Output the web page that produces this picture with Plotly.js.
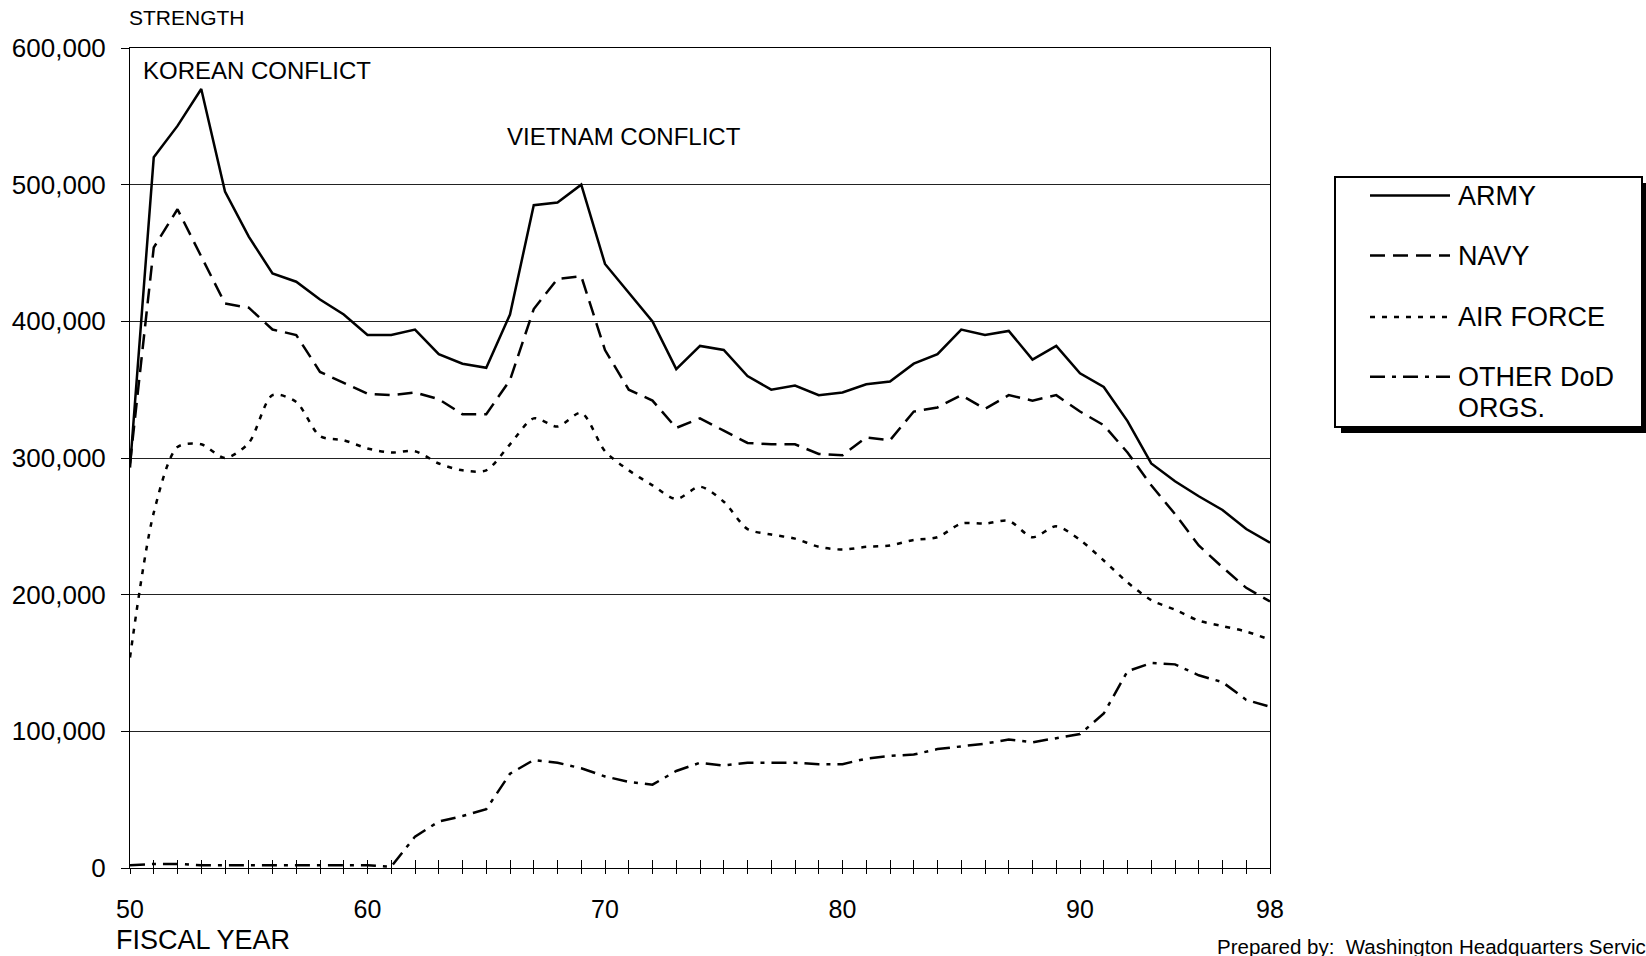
<!DOCTYPE html>
<html>
<head>
<meta charset="utf-8">
<script src="https://cdn.plot.ly/plotly-3.0.1.min.js"></script>
<style>
  html, body { margin: 0; padding: 0; background: #fff; }
  #chart { width: 1646px; height: 956px; }
</style>
</head>
<body>
<div id="chart"></div>
<script>
// ---- data ----
const years = [50,51,52,53,54,55,56,57,58,59,60,61,62,63,64,65,66,67,68,69,70,71,72,73,74,75,76,77,78,79,80,81,82,83,84,85,86,87,88,89,90,91,92,93,94,95,96,97,98];

const army = [293000,520000,543000,570000,495000,462000,435000,429000,416000,405000,390000,390000,394000,376000,369000,366000,405000,485000,487000,500000,442000,421000,400000,365000,382000,379000,360000,350000,353000,346000,348000,354000,356000,369000,376000,394000,390000,393000,372000,382000,362000,352000,327000,296000,283000,272000,262000,248000,238000];

const navy = [296000,454000,482000,447000,413000,410000,394000,390000,363000,355000,347000,346000,348000,343000,332000,332000,357000,409000,431000,433000,379000,350000,342000,322000,329000,320000,311000,310000,310000,303000,302000,315000,313000,334000,337000,346000,336000,346000,342000,346000,334000,324000,304000,280000,259000,236000,220000,205000,195000];

const airForce = [154000,260000,308000,310000,300000,311000,346000,341000,316000,313000,307000,304000,305000,296000,291000,291000,310000,329000,323000,333000,305000,291000,280000,270000,279000,268000,248000,244000,241000,235000,233000,235000,236000,240000,242000,252000,252000,254000,242000,250000,240000,225000,209000,196000,189000,181000,177000,173000,167000];

const otherDoD = [2000,3000,3000,2000,2000,2000,2000,2000,2000,2000,2000,1000,23000,34000,38000,43000,69000,79000,77000,73000,67000,63000,61000,71000,77000,75000,77000,77000,77000,76000,76000,80000,82000,83000,87000,89000,91000,94000,92000,95000,98000,113000,144000,150000,149000,141000,136000,123000,118000];

const seriesNames = ['ARMY', 'NAVY', 'AIR FORCE', 'OTHER DoD ORGS.'];
const legendLabelLines = [['ARMY'], ['NAVY'], ['AIR FORCE'], ['OTHER DoD', 'ORGS.']];
const labeledYears = [50, 60, 70, 80, 90, 98];
const yTickVals = [0, 100000, 200000, 300000, 400000, 500000, 600000];
const yTickText = ['0', '100,000', '200,000', '300,000', '400,000', '500,000', '600,000'];

// ---- styles ----
const FONT = '"Liberation Sans", Arial, Helvetica, sans-serif';
const seriesValues = [army, navy, airForce, otherDoD];
const dashes = ['solid', '15px,8px', '5px,7px', '15px,7px,4px,7px'];
const shapesLine = ['linear', 'linear', 'spline', 'linear'];

// plot area in pixels
const W = 1646, H = 956;
const L = 130, R = 1270, T = 48, B = 868;
const px = x => (x - L) / (R - L);
const py = y => (B - y) / (B - T);

const traces = seriesValues.map((vals, i) => ({
  x: years,
  y: vals,
  name: seriesNames[i],
  type: 'scatter',
  mode: 'lines',
  line: { color: '#000', width: 2.5, dash: dashes[i], shape: shapesLine[i], smoothing: 0.8 },
  showlegend: false,
  hoverinfo: 'x+y+name'
}));

// invisible trace on overlay axis so inside ticks draw
traces.push({
  x: [years[0]], y: [0], xaxis: 'x2', yaxis: 'y', type: 'scatter', mode: 'lines',
  line: { width: 0 }, showlegend: false, hoverinfo: 'skip'
});

const tickText = years.map(y => labeledYears.includes(y) ? String(y) : '');

const annotations = [
  { text: 'STRENGTH', x: px(127), y: py(17.5), xanchor: 'left', yanchor: 'middle', font: { size: 21 } },
  { text: 'KOREAN CONFLICT', x: px(141), y: py(70.5), xanchor: 'left', yanchor: 'middle', font: { size: 24 } },
  { text: 'VIETNAM CONFLICT', x: px(505), y: py(136.5), xanchor: 'left', yanchor: 'middle', font: { size: 24 } },
  { text: 'FISCAL YEAR', x: px(114), y: py(940), xanchor: 'left', yanchor: 'middle', font: { size: 27 } },
  { text: 'Prepared by:  Washington Headquarters Services', x: px(1215), y: py(946), xanchor: 'left', yanchor: 'middle', font: { size: 20.5 } }
];

// legend built from the series
const legendRowsY = [195.5, 255.5, 317, 376.7];
const shapes = [
  { type: 'rect', xref: 'paper', yref: 'paper', x0: px(1341), x1: px(1648), y0: py(183), y1: py(433), fillcolor: '#000', line: { width: 0 } },
  { type: 'rect', xref: 'paper', yref: 'paper', x0: px(1335), x1: px(1642), y0: py(177), y1: py(427), fillcolor: '#fff', line: { color: '#000', width: 2 } }
];
seriesNames.forEach((n, i) => {
  shapes.push({ type: 'line', xref: 'paper', yref: 'paper', x0: px(1370), x1: px(1450), y0: py(legendRowsY[i]), y1: py(legendRowsY[i]), line: { color: '#000', width: 2.5, dash: dashes[i] } });
  legendLabelLines[i].forEach((t, j) => {
    annotations.push({ text: t, x: px(1456), y: py(legendRowsY[i] + j * 31), xanchor: 'left', yanchor: 'middle', font: { size: 27 } });
  });
});

annotations.forEach(a => { a.xref = 'paper'; a.yref = 'paper'; a.showarrow = false; a.font.family = FONT; a.font.color = '#000'; });

const layout = {
  width: W, height: H,
  margin: { l: L, r: W - R, t: T, b: H - B, pad: 0 },
  paper_bgcolor: '#fff', plot_bgcolor: '#fff',
  font: { family: FONT, color: '#000' },
  showlegend: false,
  xaxis: {
    range: [50, 98], tickmode: 'array', tickvals: years, ticktext: tickText,
    ticks: 'outside', ticklen: 5, tickwidth: 1, tickcolor: '#000',
    ticklabelstandoff: 14,
    showgrid: false, zeroline: false,
    showline: true, linecolor: '#000', linewidth: 1, mirror: true,
    tickfont: { size: 25, family: FONT, color: '#000' }, fixedrange: true
  },
  xaxis2: {
    range: [50, 98], overlaying: 'x', anchor: 'y', side: 'bottom',
    tickmode: 'array', tickvals: years, ticktext: years.map(() => ''),
    ticks: 'inside', ticklen: 8, tickwidth: 1, tickcolor: '#000',
    showgrid: false, zeroline: false, showline: false, showticklabels: false
  },
  yaxis: {
    range: [0, 600000], tickmode: 'array', tickvals: yTickVals, ticktext: yTickText,
    ticks: 'outside', ticklen: 8, tickwidth: 1, tickcolor: '#000',
    ticklabelstandoff: 10,
    showgrid: true, gridcolor: '#222', gridwidth: 1, zeroline: false,
    showline: true, linecolor: '#000', linewidth: 1, mirror: true,
    tickfont: { size: 26, family: FONT, color: '#000' }, fixedrange: true
  },
  annotations: annotations,
  shapes: shapes
};

Plotly.newPlot('chart', traces, layout, { staticPlot: true, displayModeBar: false });
</script>
</body>
</html>
